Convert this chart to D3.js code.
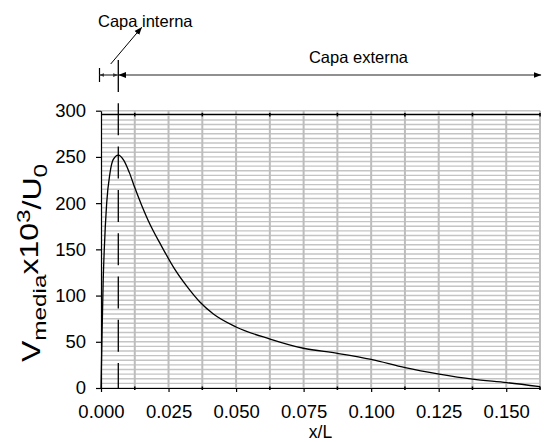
<!DOCTYPE html>
<html>
<head>
<meta charset="utf-8">
<script src="https://cdn.jsdelivr.net/npm/d3@7"></script>
<style>
  html, body { margin: 0; padding: 0; background: #fff; }
  svg { display: block; font-family: "Liberation Sans", Arial, sans-serif; }
</style>
</head>
<body>
<svg id="chart" width="544" height="442"></svg>
<script>
// Mean velocity profile across the layer (x/L vs V_media·10^3/U0)
const xPos   = [0, 0.0003, 0.0008, 0.0012, 0.0021, 0.0033, 0.0045, 0.0064, 0.0085, 0.0105,
                0.0126, 0.015, 0.0175, 0.0225, 0.0274, 0.0323, 0.0366, 0.0416, 0.05,
                0.0626, 0.0749, 0.0875, 0.1, 0.1126, 0.1252, 0.1376, 0.1502, 0.1625];
const vMedia = [0, 45, 115, 149, 200, 232, 247, 252, 246, 233,
                216, 198, 181, 153, 128, 108, 93, 80, 66,
                53, 43, 37.5, 31, 22, 15, 9.5, 5.8, 1.4];

const xTicks = [0, 0.025, 0.05, 0.075, 0.1, 0.125, 0.15];
const yTicks = [0, 50, 100, 150, 200, 250, 300];
const xMinorTicks = [0.0125, 0.0375, 0.0625, 0.0875, 0.1125, 0.1375, 0.1625];

// boundary between inner and outer layer, and the upper reference line
const innerEdge = 0.0064;
const topRef = 296;

const svg = d3.select("#chart");
const x = d3.scaleLinear().domain([0, 0.1625]).range([101, 540]);
const y = d3.scaleLinear().domain([0, 300]).range([388, 110.7]);

// grid
const grid = svg.append("g");
grid.selectAll("line.h").data(d3.range(0, 301, 5)).join("line")
  .attr("x1", x(0)).attr("x2", x(0.1625))
  .attr("y1", d => y(d)).attr("y2", d => y(d))
  .attr("stroke", "#c4c4c4").attr("stroke-width", 1.4);
grid.selectAll("line.v").data(d3.range(1, 14).map(i => i * 0.0125)).join("line")
  .attr("x1", d => x(d)).attr("x2", d => x(d))
  .attr("y1", y(0)).attr("y2", y(300))
  .attr("stroke", "#bdbdbd").attr("stroke-width", 2);

// upper reference line with small ticks
svg.append("line")
  .attr("x1", x(0)).attr("x2", x(0.1625))
  .attr("y1", y(topRef)).attr("y2", y(topRef))
  .attr("stroke", "#000").attr("stroke-width", 1.2);
svg.append("g").selectAll("line").data(xMinorTicks).join("line")
  .attr("x1", d => x(d)).attr("x2", d => x(d))
  .attr("y1", y(topRef) - 1.5).attr("y2", y(topRef) + 2)
  .attr("stroke", "#000").attr("stroke-width", 1.6);

// axes
const fontSize = "18.5px";
const xAxis = svg.append("g").attr("transform", `translate(0,${y(0)})`)
  .call(d3.axisBottom(x).tickValues(xTicks).tickFormat(d3.format(".3f"))
        .tickSize(4).tickSizeOuter(0));
xAxis.selectAll("text").attr("y", 30).attr("dy", 0)
  .style("font-size", fontSize).attr("fill", "#000");
xAxis.append("g").selectAll("line").data(xMinorTicks).join("line")
  .attr("x1", d => x(d)).attr("x2", d => x(d)).attr("y1", -1.5).attr("y2", 2)
  .attr("stroke", "#000").attr("stroke-width", 1.6);

const yAxis = svg.append("g").attr("transform", `translate(${x(0)},0)`)
  .call(d3.axisLeft(y).tickValues(yTicks).tickSize(5).tickPadding(10).tickSizeOuter(0));
yAxis.selectAll("text").style("font-size", fontSize).attr("fill", "#000");
svg.selectAll(".domain").attr("stroke", "#000").attr("stroke-width", 1.2);
svg.selectAll(".tick line").attr("stroke", "#000").attr("stroke-width", 1.2);

// inner/outer boundary (dashed)
svg.append("line")
  .attr("x1", x(innerEdge)).attr("x2", x(innerEdge))
  .attr("y1", 60).attr("y2", y(0))
  .attr("stroke", "#000").attr("stroke-width", 1.3)
  .attr("stroke-dasharray", "32,11.3");

// profile curve
svg.append("path")
  .datum(xPos.map((d, i) => [d, vMedia[i]]))
  .attr("fill", "none").attr("stroke", "#000").attr("stroke-width", 1.3)
  .attr("d", d3.line().x(d => x(d[0])).y(d => y(d[1])).curve(d3.curveMonotoneX));

// arrow markers
const defs = svg.append("defs");
defs.append("marker").attr("id", "arr").attr("viewBox", "0 0 8 8")
  .attr("refX", 7.5).attr("refY", 4).attr("markerWidth", 8).attr("markerHeight", 8)
  .attr("markerUnits", "userSpaceOnUse").attr("orient", "auto-start-reverse")
  .append("path").attr("d", "M0,1 L8,4 L0,7 Z").attr("fill", "#000");
defs.append("marker").attr("id", "arrs").attr("viewBox", "0 0 8 8")
  .attr("refX", 7.5).attr("refY", 4).attr("markerWidth", 5).attr("markerHeight", 5)
  .attr("markerUnits", "userSpaceOnUse").attr("orient", "auto-start-reverse")
  .append("path").attr("d", "M0,1 L8,4 L0,7 Z").attr("fill", "#333");

// layer annotation
const annY = 75;
svg.append("line").attr("x1", x(0) - 1.5).attr("x2", x(0) - 1.5)
  .attr("y1", 68).attr("y2", 82).attr("stroke", "#000").attr("stroke-width", 1.2);
svg.append("line").attr("x1", x(0) - 1.5).attr("x2", x(innerEdge) - 0.5)
  .attr("y1", annY).attr("y2", annY).attr("stroke", "#333").attr("stroke-width", 1.2)
  .attr("marker-start", "url(#arrs)").attr("marker-end", "url(#arrs)");
svg.append("line").attr("x1", x(innerEdge) + 0.5).attr("x2", x(0.1625) + 1)
  .attr("y1", annY).attr("y2", annY).attr("stroke", "#222").attr("stroke-width", 1.2)
  .attr("marker-start", "url(#arr)").attr("marker-end", "url(#arr)");
svg.append("line").attr("x1", 110.7).attr("y1", 64).attr("x2", 141.7).attr("y2", 27.3)
  .attr("stroke", "#000").attr("stroke-width", 1)
  .attr("marker-end", "url(#arr)");

svg.append("text").attr("x", 98).attr("y", 26.5).style("font-size", "16.5px")
  .text("Capa interna");
svg.append("text").attr("x", 358.5).attr("y", 62.5).attr("text-anchor", "middle")
  .style("font-size", "16.5px").text("Capa externa");

// axis titles
svg.append("text").attr("x", (x(0) + x(0.1625)) / 2).attr("y", 438.3)
  .attr("text-anchor", "middle").style("font-size", "17.5px").text("x/L");

const yl = svg.append("text")
  .attr("transform", "translate(40,263) rotate(-90) scale(1.28,1)")
  .attr("text-anchor", "middle").style("font-size", "25px");
yl.append("tspan").text("V");
yl.append("tspan").attr("dy", "0.3em").style("font-size", "19px").text("media");
yl.append("tspan").attr("dy", "-0.3em").text("x10");
yl.append("tspan").attr("dy", "-0.45em").style("font-size", "19px").text("3");
yl.append("tspan").attr("dy", "0.45em").text("/U");
yl.append("tspan").attr("dy", "0.3em").style("font-size", "19px").text("0");
</script>
</body>
</html>
